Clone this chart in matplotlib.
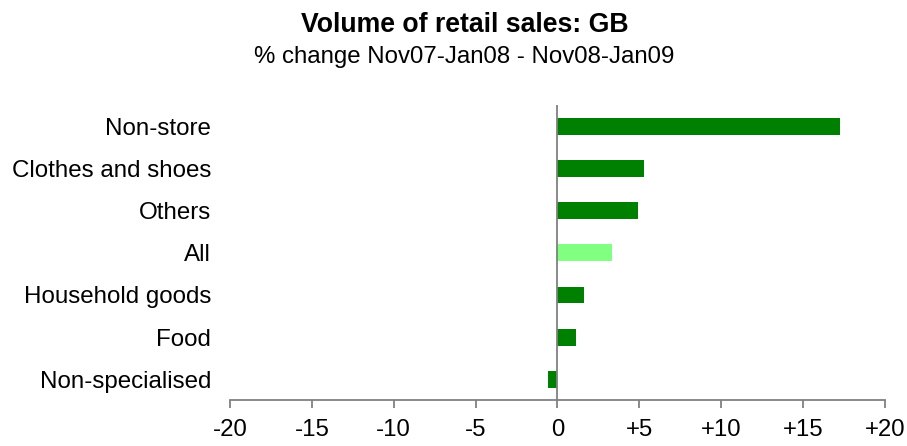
import matplotlib
matplotlib.use("Agg")
import matplotlib.pyplot as plt

plt.rcParams['font.family'] = ['Liberation Sans', 'DejaVu Sans']

# bottom to top
categories = ["Non-specialised", "Food", "Household goods", "All",
              "Others", "Clothes and shoes", "Non-store"]
values = [-0.55, 1.1, 1.6, 3.3, 4.9, 5.3, 17.25]
bar_colors = ["#008000", "#008000", "#008000", "#80ff80",
              "#008000", "#008000", "#008000"]
xticks = [-20, -15, -10, -5, 0, 5, 10, 15, 20]
xtick_labels = ["-20", "-15", "-10", "-5", "0", "+5", "+10", "+15", "+20"]

fig = plt.figure(figsize=(9.07, 4.46), dpi=100)
ax = fig.add_axes([230 / 907, 45.7 / 446, 655 / 907, 295 / 446])

ypos = range(len(categories))
ax.barh(ypos, values, height=0.4, color=bar_colors)
ax.axvline(0, color="#808080", lw=1.3)

ax.set_xlim(-20, 20)
ax.set_ylim(-0.5, 6.5)
ax.set_xticks(xticks)
ax.set_xticklabels(xtick_labels, fontsize=17.3)
ax.set_yticks(list(ypos))
ax.set_yticklabels(categories, fontsize=17.35)

for side in ["top", "right", "left"]:
    ax.spines[side].set_visible(False)
ax.spines["bottom"].set_color("#808080")
ax.spines["bottom"].set_linewidth(1.3)
ax.tick_params(axis="x", length=5.8, width=1.3, color="#808080", pad=7.5)
ax.tick_params(axis="y", length=0, pad=13.7)

fig.text(0.512, 1 - 31.7 / 446, "Volume of retail sales: GB", ha="center",
         va="baseline", fontsize=19.2, fontweight="bold")
fig.text(0.512, 1 - 63 / 446, "% change Nov07-Jan08 - Nov08-Jan09",
         ha="center", va="baseline", fontsize=17.3)

fig.savefig("out.png", dpi=100)
